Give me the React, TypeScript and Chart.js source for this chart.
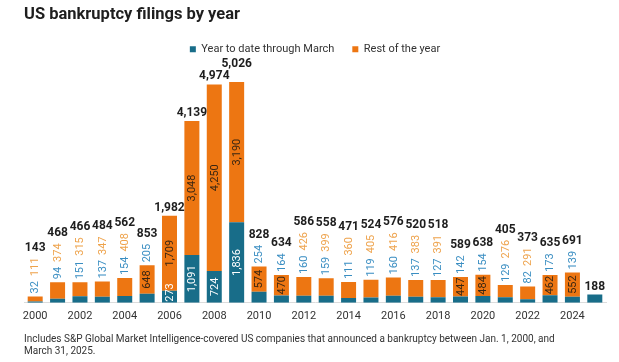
import React, { useEffect, useRef } from "react";
import { Chart, registerables } from "chart.js";

Chart.register(...registerables);

const years = [
  "2000","2001","2002","2003","2004","2005","2006","2007","2008","2009",
  "2010","2011","2012","2013","2014","2015","2016","2017","2018","2019",
  "2020","2021","2022","2023","2024","2025",
];
const yearToDate = [32, 94, 151, 137, 154, 205, 273, 1091, 724, 1836, 254, 164, 160, 159, 111, 119, 160, 137, 127, 142, 154, 129, 82, 173, 139, 188];
const restOfYear: (number | null)[] = [111, 374, 315, 347, 408, 648, 1709, 3048, 4250, 3190, 574, 470, 426, 399, 360, 405, 416, 383, 391, 447, 484, 276, 291, 462, 552, null];
const totals = [143, 468, 466, 484, 562, 853, 1982, 4139, 4974, 5026, 828, 634, 586, 558, 471, 524, 576, 520, 518, 589, 638, 405, 373, 635, 691, 188];

const TEAL = "#186d89";
const ORANGE = "#ed7612";
const FONT = "Roboto";

const fmt = (v: number) => v.toLocaleString("en-US");

const labelPlugin = {
  id: "stackLabels",
  afterDatasetsDraw(chart: any) {
    const ctx = chart.ctx;
    const m0 = chart.getDatasetMeta(0);
    const m1 = chart.getDatasetMeta(1);
    ctx.save();
    let prev: { x0: number; x1: number; top: number; bottom: number } | null = null;
    for (let i = 0; i < years.length; i++) {
      const b0 = m0.data[i];
      const b1 = m1.data[i];
      const ytd = yearToDate[i];
      const rest = restOfYear[i];
      const x = b0.x;
      const stackTop = rest != null ? b1.y : b0.y;
      let cursor = stackTop - 3;
      ctx.font = `11px ${FONT}`;
      const drawRot = (text: string, px: number, py: number, color: string, align: string) => {
        ctx.save();
        ctx.translate(px, py);
        ctx.rotate(-Math.PI / 2);
        ctx.fillStyle = color;
        ctx.textAlign = align;
        ctx.textBaseline = "middle";
        ctx.fillText(text, 0, 0.5);
        ctx.restore();
      };
      const drawInside = (text: string, top: number, base: number, color: string) => {
        const w = ctx.measureText(text).width;
        if (w > base - top) {
          drawRot(text, x, base - 1, color, "left");
        } else {
          drawRot(text, x, (top + base) / 2, color, "center");
        }
      };
      if (rest != null) {
        if (ytd >= 260) {
          drawInside(fmt(ytd), b0.y, b0.base, "#ffffff");
        } else {
          const t = fmt(ytd);
          drawRot(t, x, cursor, "#3a8ec2", "left");
          cursor -= ctx.measureText(t).width + 5;
        }
        if (rest >= 440) {
          drawInside(fmt(rest), b1.y, b1.base, "#3a2612");
        } else {
          const t = fmt(rest);
          drawRot(t, x, cursor, "#eea34c", "left");
          cursor -= ctx.measureText(t).width + 5;
        }
      }
      ctx.font = `bold 12px ${FONT}`;
      const label = fmt(totals[i]);
      const w = ctx.measureText(label).width;
      let bottom = cursor + 1;
      const h = 10;
      const box = { x0: x - w / 2, x1: x + w / 2, top: bottom - h, bottom };
      if (prev && box.x0 < prev.x1 && box.bottom > prev.top && box.top < prev.bottom) {
        bottom = prev.top - 2;
        box.bottom = bottom;
        box.top = bottom - h;
      }
      ctx.fillStyle = "#1e1e1e";
      ctx.textAlign = "center";
      ctx.textBaseline = "bottom";
      ctx.fillText(label, x, bottom);
      prev = box;
    }
    ctx.restore();
  },
};

export default function App() {
  const ref = useRef<HTMLCanvasElement>(null);
  useEffect(() => {
    const chart = new Chart(ref.current!, {
      type: "bar",
      data: {
        labels: years,
        datasets: [
          { label: "Year to date through March", data: yearToDate, backgroundColor: TEAL, stack: "s" },
          { label: "Rest of the year", data: restOfYear as any, backgroundColor: ORANGE, stack: "s" },
        ],
      },
      options: {
        responsive: false,
        animation: false,
        devicePixelRatio: 1,
        layout: { padding: { left: 24, right: 13, top: 0, bottom: 0 } },
        datasets: { bar: { barPercentage: 0.67, categoryPercentage: 1 } },
        scales: {
          x: {
            stacked: true,
            grid: { display: false, drawTicks: false },
            border: { display: true, color: "#dcdcdc", width: 1 },
            ticks: {
              autoSkip: false,
              maxRotation: 0,
              padding: 7,
              color: "#333333",
              font: { family: FONT, size: 11 },
              callback: (_v: any, i: number) => (i % 2 === 0 ? years[i] : ""),
            },
          },
          y: { stacked: true, display: false, min: 0, max: 5420 },
        },
        plugins: {
          title: {
            display: true,
            text: "US bankruptcy filings by year",
            align: "start",
            color: "#1e1e1e",
            font: { family: FONT, size: 16.5, weight: "bold" },
            padding: { top: 5, bottom: 1 },
            fullSize: true,
          },
          legend: {
            display: true,
            position: "top",
            align: "center",
            labels: {
              boxWidth: 6,
              boxHeight: 6,
              padding: 18,
              color: "#333333",
              font: { family: FONT, size: 11 },
            },
          },
          subtitle: {
            display: true,
            position: "bottom",
            align: "start",
            text: [
              "Includes S&P Global Market Intelligence-covered US companies that announced a bankruptcy between Jan. 1, 2000, and",
              "March 31, 2025.",
            ],
            color: "#333333",
            font: { family: FONT, size: 10 },
            padding: { top: 3, bottom: 5 },
          },
          tooltip: { enabled: false },
        },
      },
      plugins: [labelPlugin],
    });
    return () => chart.destroy();
  }, []);
  return (
    <div style={{ position: "fixed", left: 0, top: 0, width: 619, height: 362, background: "#fff" }}>
      <canvas ref={ref} width={619} height={362} />
    </div>
  );
}
